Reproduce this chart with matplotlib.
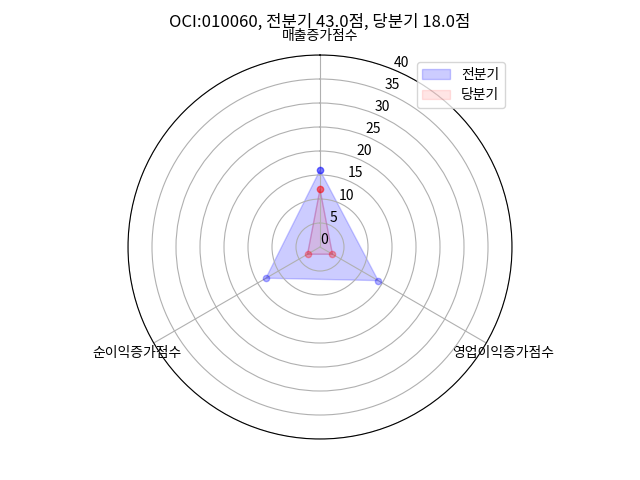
import numpy as np
import matplotlib
matplotlib.use("Agg")
import matplotlib.pyplot as plt

plt.rcParams['font.family'] = ['Noto Sans CJK KR', 'DejaVu Sans']

categories = ['매출증가점수', '영업이익증가점수', '순이익증가점수']
prev_values = [16, 14, 13]
curr_values = [12, 3, 3]
title = 'OCI:010060, 전분기 43.0점, 당분기 18.0점'
rticks = [0, 5, 10, 15, 20, 25, 30, 35, 40]

n = len(categories)
angles = [i / n * 2 * np.pi for i in range(n)]
angles_c = angles + angles[:1]
prev_c = prev_values + prev_values[:1]
curr_c = curr_values + curr_values[:1]

fig = plt.figure(figsize=(6.4, 4.8), dpi=100)
ax = fig.add_axes([0.2, 0.0854, 0.6, 0.8], polar=True)
ax.set_theta_offset(np.pi / 2)
ax.set_theta_direction(-1)

ax.plot(angles_c, prev_c, 'o', color='blue', markersize=4.5, alpha=0.3)
ax.fill(angles_c, prev_c, color='blue', alpha=0.2, label='전분기')
ax.plot(angles_c, curr_c, '-', color='purple', linewidth=1, alpha=0.2)
ax.plot(angles_c, curr_c, 'o', color='red', markersize=4.5, alpha=0.3)
ax.fill(angles_c, curr_c, color='red', alpha=0.1, label='당분기')

ax.set_xticks(angles)
ax.set_xticklabels(categories, fontsize=10)
ax.set_ylim(0, 40)
ax.set_yticks(rticks)
ax.set_yticklabels([str(t) for t in rticks], fontsize=10)
ax.set_title(title, fontsize=12, y=1.051)
ax.legend(loc='upper right')

fig.savefig('out.png', dpi=100)
